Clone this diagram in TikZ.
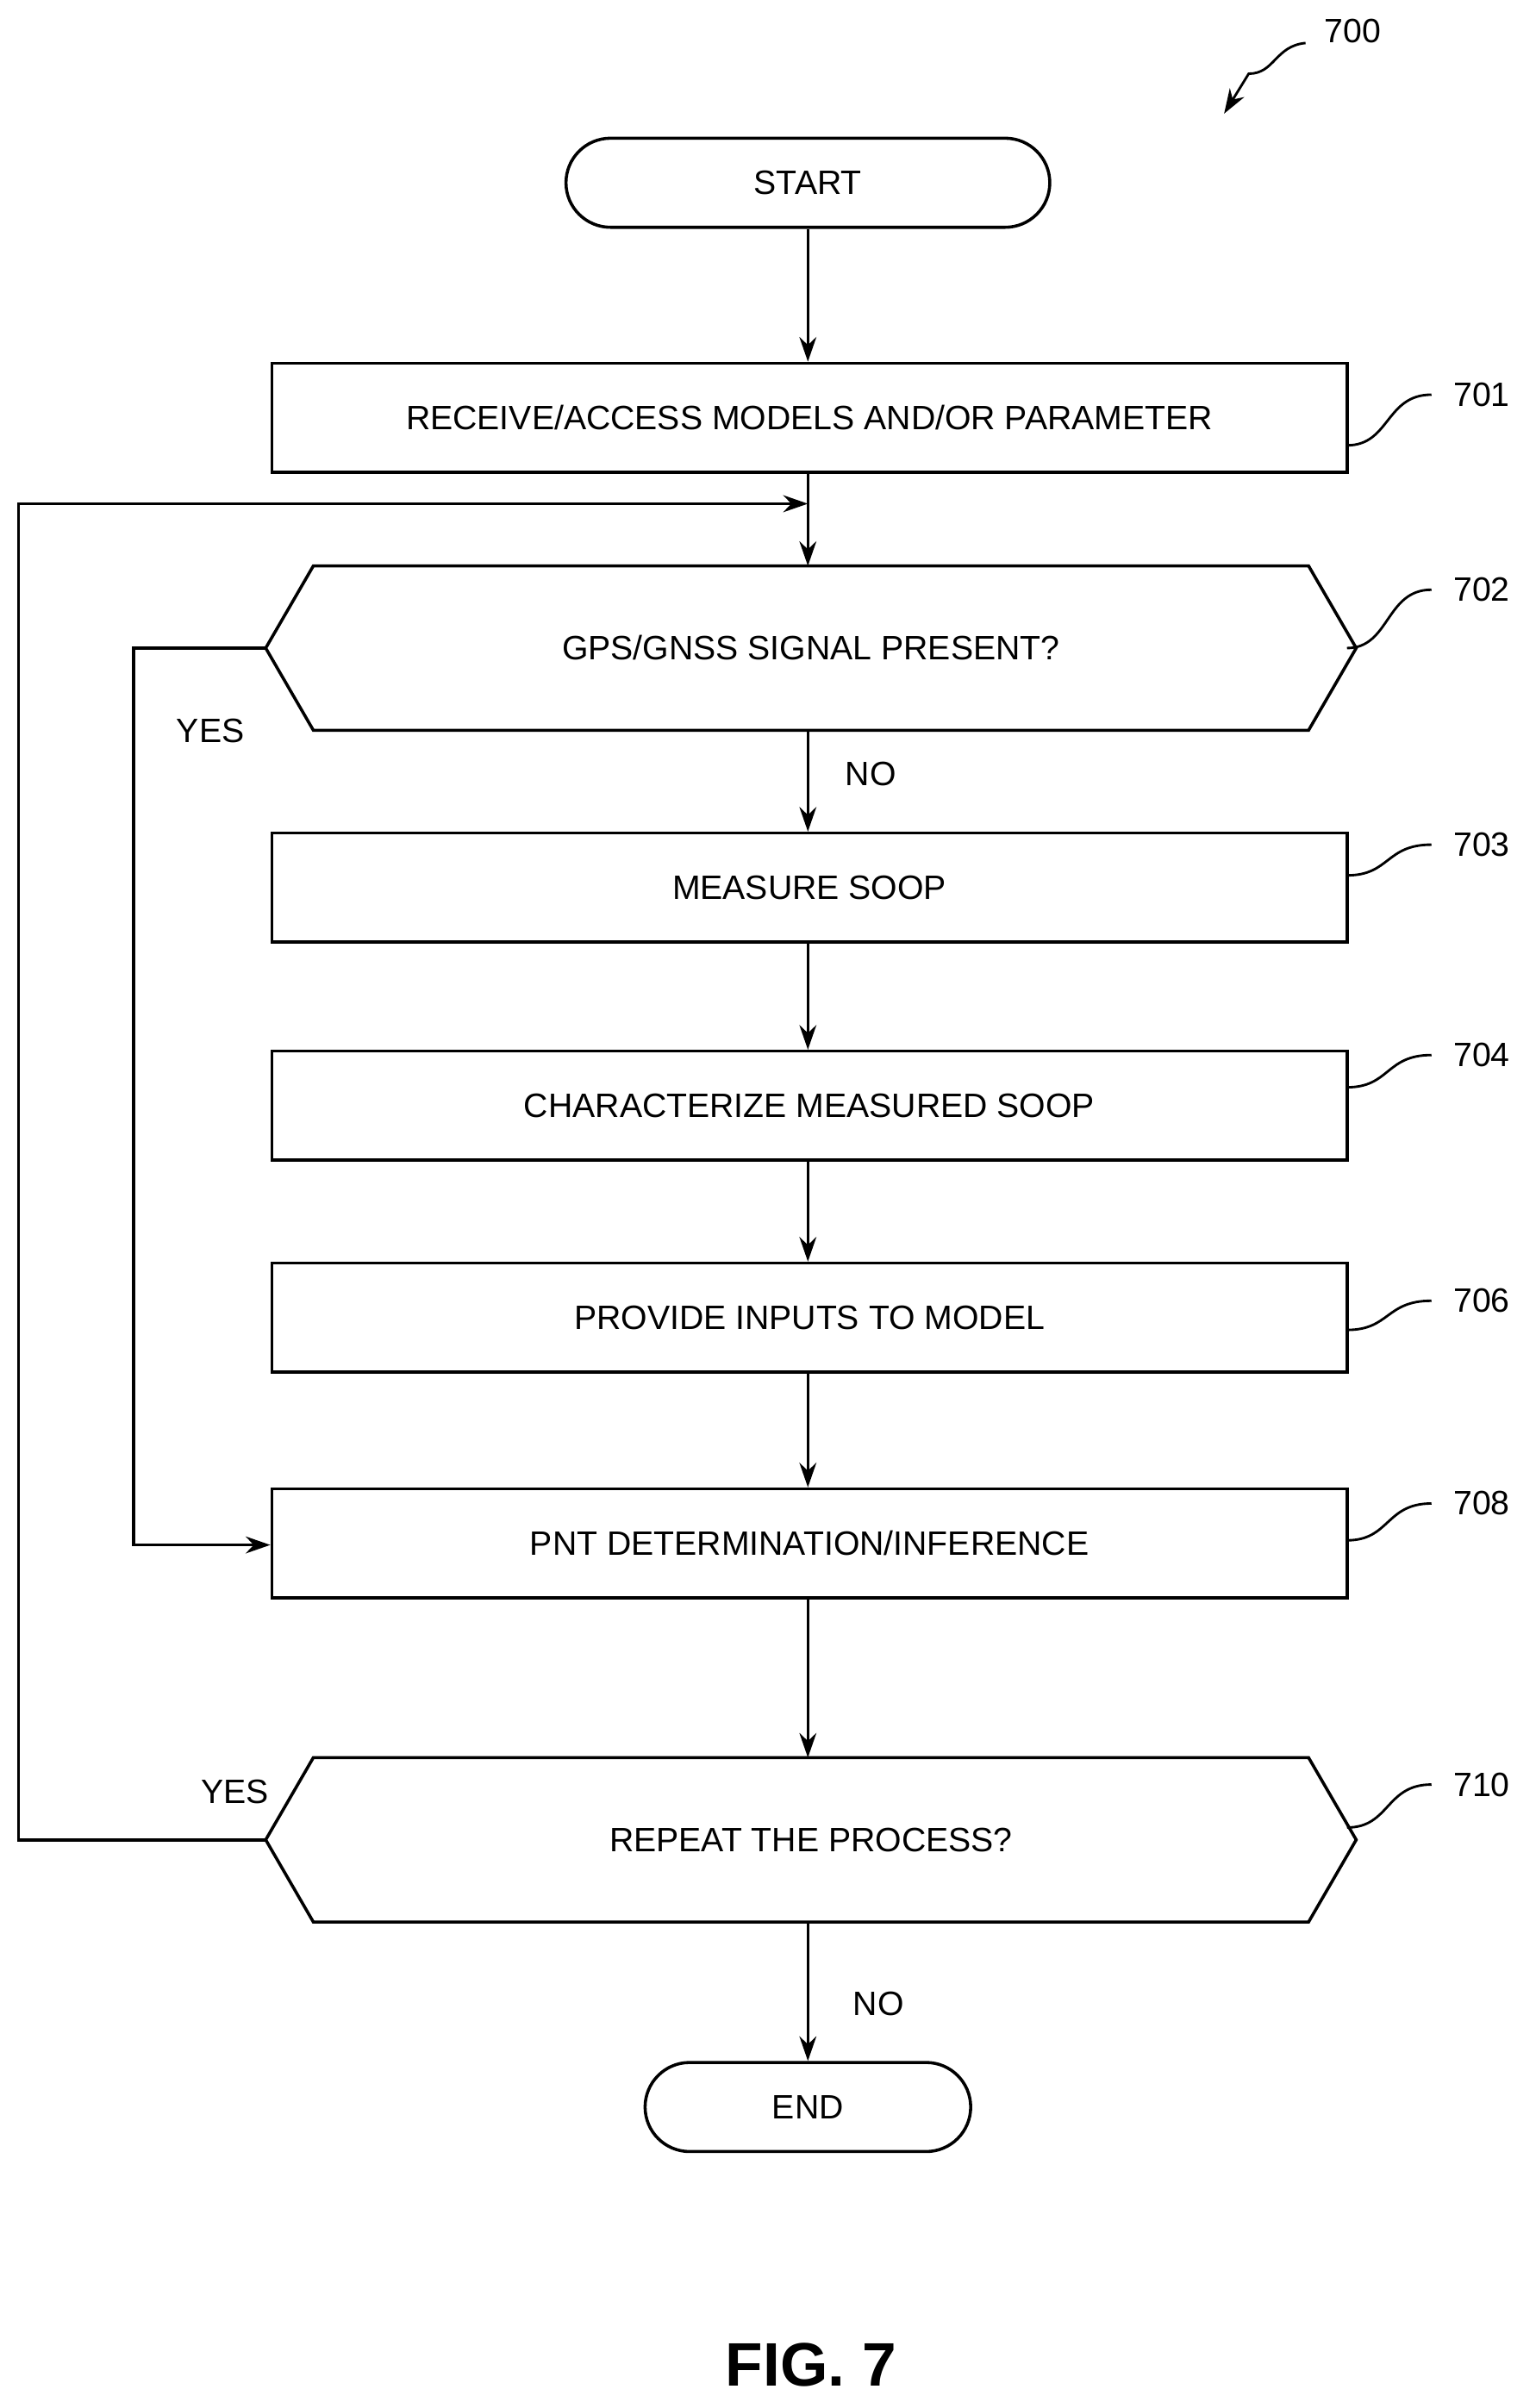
\documentclass[tikz,border=0pt]{standalone}
\usepackage{fontspec}
\setmainfont{Liberation Sans}
\usetikzlibrary{arrows.meta,calc}
\begin{document}
\begin{tikzpicture}[x=1pt,y=-1pt,line width=2pt,
  every node/.style={font=\fontsize{22}{26}\selectfont},
  box/.style={draw,minimum width=700pt,minimum height=71pt,inner sep=0pt},
  term/.style={draw,rounded corners=29pt,minimum height=58pt,inner sep=0pt},
  hexn/.style={minimum width=708pt,minimum height=105pt,inner sep=0pt},
  arr/.style={-{Stealth[length=16pt,width=11pt]}},
  lead/.style={line width=1.6pt},
  lbl/.style={anchor=west}]
\useasboundingbox (0,0) rectangle (1000,1568);
\node[term,minimum width=315pt] (start) at (526,119) {START};
\node[box] (b701) at (527,272) {RECEIVE/ACCESS MODELS AND/OR PARAMETER};
\node[hexn] (d702) at (528,422) {GPS/GNSS SIGNAL PRESENT?};
\draw (d702.west) -- ($(d702.north west)+(31,0)$) -- ($(d702.north east)+(-31,0)$) -- (d702.east) -- ($(d702.south east)+(-31,0)$) -- ($(d702.south west)+(31,0)$) -- cycle;
\node[box] (b703) at (527,578) {MEASURE SOOP};
\node[box] (b704) at (527,720) {CHARACTERIZE MEASURED SOOP};
\node[box] (b706) at (527,858) {PROVIDE INPUTS TO MODEL};
\node[box] (b708) at (527,1005) {PNT DETERMINATION/INFERENCE};
\node[hexn] (d710) at (528,1198) {REPEAT THE PROCESS?};
\draw (d710.west) -- ($(d710.north west)+(31,0)$) -- ($(d710.north east)+(-31,0)$) -- (d710.east) -- ($(d710.south east)+(-31,0)$) -- ($(d710.south west)+(31,0)$) -- cycle;
\node[term,minimum width=212pt] (end) at (526,1372) {END};
\coordinate (j) at (526,328);
\draw[arr] (start) -- (start|-b701.north);
\draw[arr] (b701.south-|start) -- (start|-d702.north);
\draw[arr] (start|-d702.south) -- (start|-b703.north);
\draw[arr] (start|-b703.south) -- (start|-b704.north);
\draw[arr] (start|-b704.south) -- (start|-b706.north);
\draw[arr] (start|-b706.south) -- (start|-b708.north);
\draw[arr] (start|-b708.south) -- (start|-d710.north);
\draw[arr] (start|-d710.south) -- (end);
\draw[arr] (d702.west) -- (87,422) -- (87,1006) -- (b708.west|-0,1006);
\draw[arr] (d710.west) -- (12,1198) -- (12,328) -- (j);
\node at (137,476) {YES};
\node at (153,1167) {YES};
\node at (567,504) {NO};
\node at (572,1305) {NO};
% reference labels
\node[lbl] (l700) at (858,20) {700};
\draw[lead,arr] (850,28) .. controls (830,30) and (830,48) .. (813,48) -- (797,74);
\foreach \n/\y/\ly in {701/290/257, 702/422/384, 703/570/550, 704/708/687, 706/866/847, 708/1003/979, 710/1190/1162}{
  \node[lbl] (l\n) at (942,\ly) {\n};
  \draw[lead] (877,\y) .. controls (905,\y) and (902,\ly) .. (932,\ly);
}
\node[font=\bfseries\fontsize{40}{44}\selectfont] (fig) at (528,1540) {FIG. 7};
\end{tikzpicture}
\end{document}
